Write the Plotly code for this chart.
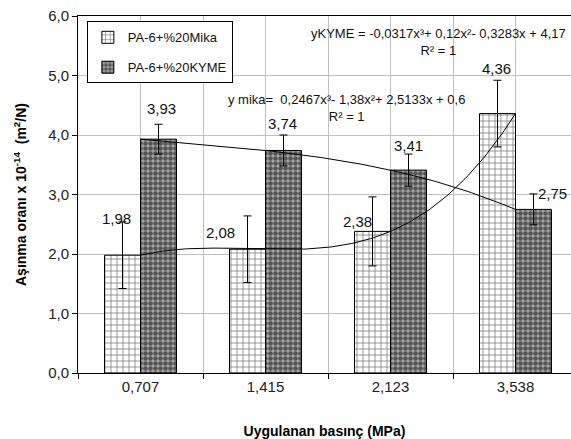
import numpy as np
import plotly.graph_objects as go

# ---- data ----
categories = ["0,707", "1,415", "2,123", "3,538"]
mika = [1.98, 2.08, 2.38, 4.36]
kyme = [3.93, 3.74, 3.41, 2.75]
mika_err = [0.56, 0.56, 0.58, 0.56]
kyme_err = [0.25, 0.26, 0.27, 0.26]
mika_coef = [0.2467, -1.38, 2.5133, 0.6]     # y mika trend (x = 1..4)
kyme_coef = [-0.0317, 0.12, -0.3283, 4.17]   # yKYME trend (x = 1..4)
mika_name = "PA-6+%20Mika"
kyme_name = "PA-6+%20KYME"
eq_mika = "y mika=  0,2467x³- 1,38x²+ 2,5133x + 0,6<br>R² = 1"
eq_kyme = "yKYME = -0,0317x³+ 0,12x²- 0,3283x + 4,17<br>R² = 1"
y_ticks = [0, 1, 2, 3, 4, 5, 6]

# ---- style ----
FONT = "Liberation Sans, Arial, sans-serif"
BARGAP = 0.424
half = (1 - BARGAP) / 4.0
mika_off = [(-6, 37, "center"), (-27, 17, "center"), (-15, 10, "center"), (-1, 45, "center")]
kyme_off = [(3, 31, "center"), (-1, 27, "center"), (0, 25, "center"), (35, 16, "right")]

xs = list(range(len(categories)))

fig = go.Figure()
fig.add_trace(go.Bar(
    x=xs, y=mika, name=mika_name, legendgroup="a",
    marker=dict(color="white", line=dict(color="black", width=1),
                pattern=dict(shape="+", fgcolor="black", bgcolor="white",
                             size=6, solidity=0.25)),
    error_y=dict(type="data", array=mika_err, color="black", thickness=1, width=4),
))
fig.add_trace(go.Bar(
    x=xs, y=kyme, name=kyme_name, legendgroup="b",
    marker=dict(color="#9a9a9a", line=dict(color="black", width=1),
                pattern=dict(shape=".", fgcolor="black", bgcolor="#a8a8a8",
                             size=5, solidity=0.65)),
    error_y=dict(type="data", array=kyme_err, color="black", thickness=1, width=4),
))

t = np.linspace(1, len(categories), 120)
fig.add_trace(go.Scatter(x=t - 1, y=np.polyval(mika_coef, t), mode="lines",
                         line=dict(color="black", width=1), showlegend=False,
                         hoverinfo="skip"))
fig.add_trace(go.Scatter(x=t - 1, y=np.polyval(kyme_coef, t), mode="lines",
                         line=dict(color="black", width=1), showlegend=False,
                         hoverinfo="skip"))

ann = []
for i, v in enumerate(mika):
    dx, dy, xa = mika_off[i]
    ann.append(dict(x=i - half, y=v, xref="x", yref="y", text=f"{v:.2f}".replace(".", ","),
                    showarrow=False, xshift=dx, yshift=dy, xanchor=xa,
                    font=dict(family=FONT, size=15, color="#111")))
for i, v in enumerate(kyme):
    dx, dy, xa = kyme_off[i]
    ann.append(dict(x=i + half, y=v, xref="x", yref="y", text=f"{v:.2f}".replace(".", ","),
                    showarrow=False, xshift=dx, yshift=dy, xanchor=xa,
                    font=dict(family=FONT, size=15, color="#111")))
ann.append(dict(x=2.386, y=5.57, xref="x", yref="y", text=eq_kyme, showarrow=False,
                align="center", font=dict(family=FONT, size=13, color="#111")))
ann.append(dict(x=1.651, y=4.45, xref="x", yref="y", text=eq_mika, showarrow=False,
                align="center", font=dict(family=FONT, size=13, color="#111")))

fig.update_layout(
    width=571, height=439,
    margin=dict(l=78, r=0, t=16, b=66),
    paper_bgcolor="white", plot_bgcolor="white",
    barmode="group", bargap=BARGAP, bargroupgap=0,
    separators=", ",
    font=dict(family=FONT, size=15, color="#111"),
    annotations=ann,
    legend=dict(x=0.018, y=0.985, xanchor="left", yanchor="top",
                bgcolor="white", bordercolor="black", borderwidth=1,
                font=dict(family=FONT, size=13, color="#111"),
                traceorder="grouped", tracegroupgap=10,
                entrywidth=105, itemwidth=30),
    xaxis=dict(range=[-0.5, 3.444], tickmode="array", tickvals=xs, ticktext=categories,
               automargin=False,
               showgrid=True, gridcolor="#c0c0c0", gridwidth=1,
               ticks="", showline=True, linecolor="black", linewidth=1, mirror=True,
               minor=dict(tick0=-0.5, dtick=1, ticks="outside", ticklen=5,
                          tickcolor="black", showgrid=True, gridcolor="#c0c0c0"),
               tickfont=dict(family=FONT, size=15, color="#222"),
               title=dict(text="<b>Uygulanan basınç (MPa)</b>", standoff=34,
                          font=dict(family=FONT, size=14, color="black")),
               zeroline=False),
    yaxis=dict(range=[0, 6], tickmode="array", tickvals=y_ticks, tickformat=".1f",
               automargin=False,
               showgrid=True, gridcolor="#c0c0c0", gridwidth=1,
               ticks="outside", ticklen=5, tickcolor="black",
               showline=True, linecolor="black", linewidth=1,
               tickfont=dict(family=FONT, size=15, color="#222"),
               title=dict(text="<b>Aşınma oranı x 10<sup>-14</sup>  (m<sup>2</sup>/N)</b>",
                          standoff=18, font=dict(family=FONT, size=14, color="black")),
               zeroline=False),
)

fig.write_html("out.html", config={"displayModeBar": False},
               post_script="document.body.style.margin='0px';document.body.style.overflow='hidden';")
